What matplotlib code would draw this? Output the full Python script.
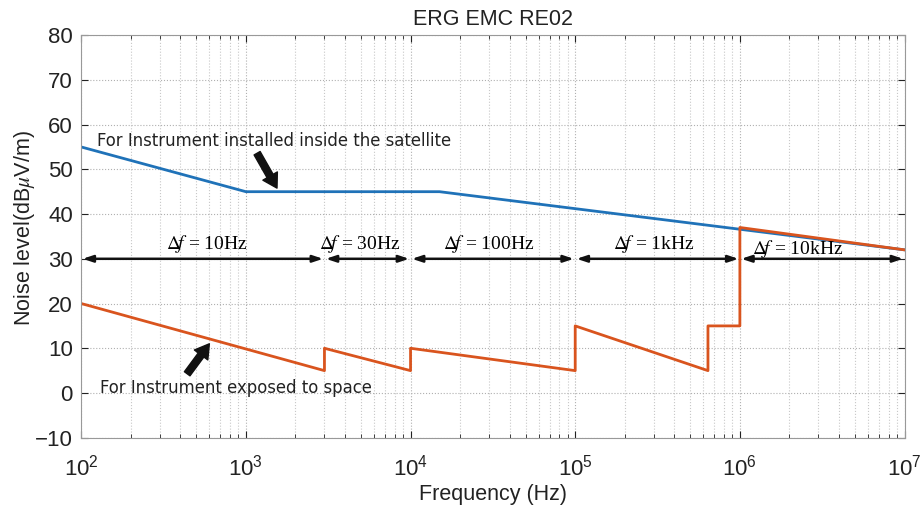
import matplotlib.pyplot as plt
import numpy as np

plt.rcParams['font.family'] = 'Liberation Sans'
plt.rcParams['mathtext.fontset'] = 'stix'

# limit for instruments inside the satellite
blue_f = [1e2, 1e3, 1.5e4, 1e7]
blue_db = [55, 45, 45, 32]

# limit for instruments exposed to space
red_f = [1e2, 3e3, 3e3, 1e4, 1e4, 1e5, 1e5, 6.4e5, 6.4e5, 1e6, 1e6, 1e7]
red_db = [20, 5, 10, 5, 10, 5, 15, 5, 15, 15, 37, 32]

# measurement bandwidth segments
band_edges = [1e2, 3e3, 1e4, 1e5, 1e6, 1e7]
band_labels = ['10Hz', '30Hz', '100Hz', '1kHz', '10kHz']
band_label_x = [580, 4.9e3, 3.0e4, 3.0e5, 2.24e6]
band_label_y = [33.4, 33.4, 33.4, 33.4, 32.3]

fig = plt.figure(figsize=(9.23, 5.09), dpi=100)
ax = fig.add_axes([0.088, 0.14, 0.892, 0.791])

ax.plot(blue_f, blue_db, color='#1f72b8', lw=2)
ax.plot(red_f, red_db, color='#d9541e', lw=2)

ax.set_xscale('log')
ax.set_xlim(1e2, 1e7)
ax.set_ylim(-10, 80)
ax.set_yticks(np.arange(-10, 81, 10))

ax.grid(True, which='major', ls=':', color='#b0b0b0', lw=0.8)
ax.grid(True, which='minor', axis='x', ls=':', color='#c8c8c8', lw=0.8)
ax.tick_params(which='both', direction='in', top=True, right=True, labelsize=16, colors='#222222')
ax.tick_params(which='major', length=5)
ax.tick_params(which='minor', length=3)
ax.tick_params(axis='x', which='major', pad=12)
ax.tick_params(axis='y', which='major', pad=6)
for s in ax.spines.values():
    s.set_color('#999999')

for i in range(len(band_labels)):
    ax.annotate('', xy=(band_edges[i + 1], 30), xytext=(band_edges[i], 30),
                arrowprops=dict(arrowstyle='<|-|>,head_width=0.2,head_length=0.6',
                                color='#111111', lw=1.8, shrinkA=1, shrinkB=1))
    ax.text(band_label_x[i], band_label_y[i], r'$\Delta\!f$ = ' + band_labels[i],
            ha='center', va='center', fontsize=14, family='Liberation Serif')

ax.text(125, 56.3, 'For Instrument installed inside the satellite', fontsize=11.9,
        va='center', ha='left', color='#222222', family='DejaVu Sans')
ax.annotate('', xy=(1545, 45.8), xytext=(1170, 53.6),
            arrowprops=dict(arrowstyle='simple,head_width=1.2,head_length=1.0,tail_width=0.5',
                            color='#111111', shrinkA=0, shrinkB=0))

ax.text(130, 1.2, 'For Instrument exposed to space', fontsize=11.9,
        va='center', ha='left', color='#222222', family='DejaVu Sans')
ax.annotate('', xy=(600, 11), xytext=(440, 4.3),
            arrowprops=dict(arrowstyle='simple,head_width=1.2,head_length=1.0,tail_width=0.5',
                            color='#111111', shrinkA=0, shrinkB=0))

ax.set_title('ERG EMC RE02', fontsize=15.5, pad=7, color='#222222')
ax.set_xlabel('Frequency (Hz)', fontsize=15.5, labelpad=3, color='#222222')
ax.set_ylabel(r'Noise level(dB$\mu$V/m)', fontsize=15.5, labelpad=-1, color='#222222')
ax.yaxis.set_label_coords(-0.054, 0.52)

fig.savefig('out.png', dpi=100)
